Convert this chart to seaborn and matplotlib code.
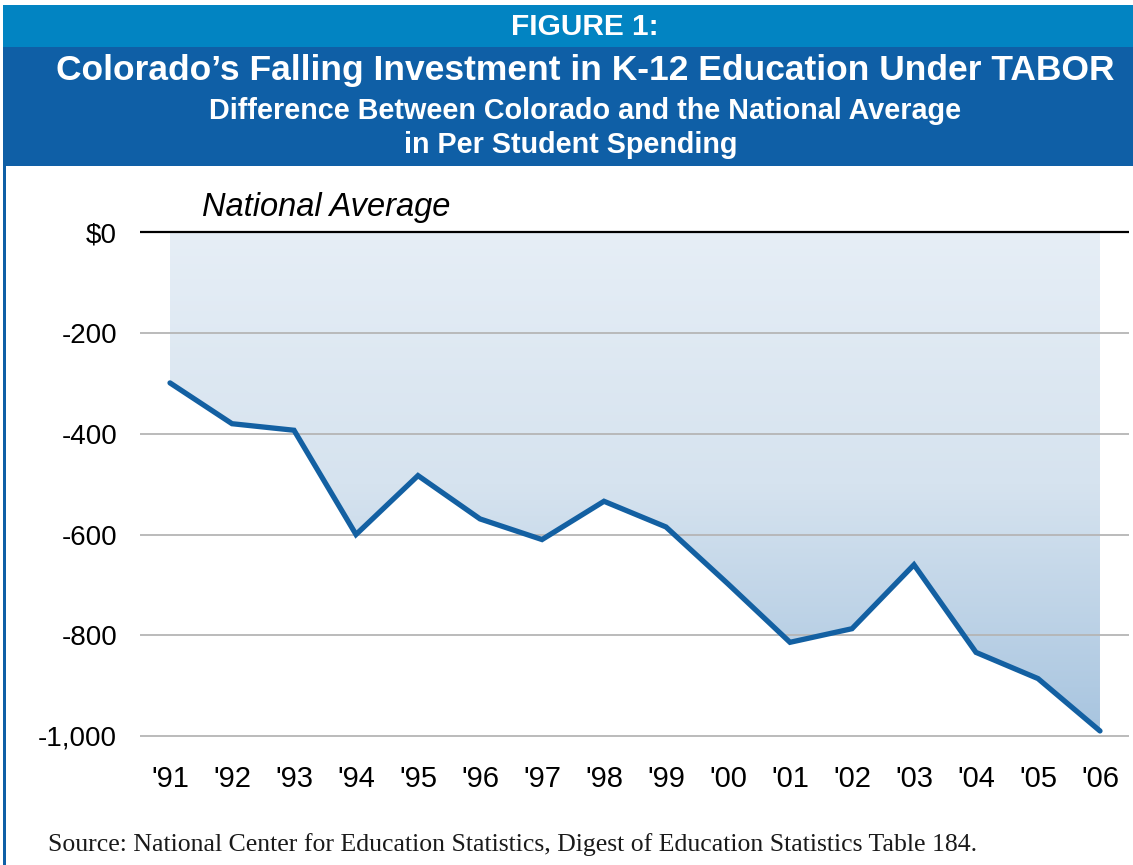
import numpy as np
import pandas as pd
import seaborn as sns
import matplotlib.pyplot as plt
from matplotlib.patches import Rectangle
from matplotlib.colors import LinearSegmentedColormap

# Data
years = ["'91", "'92", "'93", "'94", "'95", "'96", "'97", "'98",
         "'99", "'00", "'01", "'02", "'03", "'04", "'05", "'06"]
diff = [-299, -380, -393, -600, -483, -569, -610, -534,
        -585, -698, -814, -787, -660, -834, -886, -990]
yticks = [0, -200, -400, -600, -800, -1000]
ytick_labels = ['$0', '-200', '-400', '-600', '-800', '-1,000']

df = pd.DataFrame({'idx': np.arange(len(years)), 'year': years, 'diff': diff})

sns.set_style('white')
sans = ['Liberation Sans', 'DejaVu Sans']

W, H = 1133, 865
fig = plt.figure(figsize=(W / 100, H / 100), dpi=100)

# header bands and left border
fig.patches.append(Rectangle((3 / W, 1 - 47 / H), 1, 42 / H, transform=fig.transFigure,
                             facecolor='#0284C2', edgecolor='none'))
fig.patches.append(Rectangle((3 / W, 1 - 166 / H), 1, 119 / H, transform=fig.transFigure,
                             facecolor='#0F5FA6', edgecolor='none'))
fig.patches.append(Rectangle((3 / W, 0), 3 / W, 1 - 166 / H, transform=fig.transFigure,
                             facecolor='#0F5FA6', edgecolor='none'))

fig.text(585 / W, 1 - 35 / H, 'FIGURE 1:', color='white', fontsize=21.5, fontweight='bold',
         ha='center', va='baseline', family=sans)
fig.text(585 / W, 1 - 80 / H, 'Colorado\u2019s Falling Investment in K-12 Education Under TABOR',
         color='white', fontsize=25.5, fontweight='bold', ha='center', va='baseline', family=sans)
fig.text(585 / W, 1 - 119 / H, 'Difference Between Colorado and the National Average',
         color='white', fontsize=20.7, fontweight='bold', ha='center', va='baseline', family=sans)
fig.text(571 / W, 1 - 153 / H, 'in Per Student Spending',
         color='white', fontsize=20.7, fontweight='bold', ha='center', va='baseline', family=sans)

# plot area
ylo, yhi = -1010, 10
left, right = 140 / W, 1129 / W
top_px, bot_px = 232.3 - 10 * 0.5035, 736 + 10 * 0.5035
ax = fig.add_axes([left, 1 - bot_px / H, right - left, (bot_px - top_px) / H])

# gradient area between zero and the line
poly = ax.fill_between(df['idx'], df['diff'], 0, facecolor='none', edgecolor='none')
cmap = LinearSegmentedColormap.from_list('grad', ['#E6EEF6', '#D6E3EF', '#A7C4DF'])
grad = np.linspace(0, 1, 256).reshape(-1, 1)
im = ax.imshow(grad, extent=[0, len(years) - 1, -1000, 0], aspect='auto', cmap=cmap,
               origin='upper', zorder=1)
im.set_clip_path(poly.get_paths()[0], transform=ax.transData)

sns.lineplot(data=df, x='idx', y='diff', ax=ax, color='#1360A2', linewidth=3.8,
             zorder=4, solid_joinstyle='miter')

ax.set_xlim(-0.484, 15.468)
ax.set_ylim(ylo, yhi)
ax.set_yticks(yticks)
ax.set_yticklabels(ytick_labels, family=sans, fontsize=20)
ax.set_xticks(df['idx'])
ax.set_xticklabels(years, family=sans, fontsize=21)
ax.tick_params(axis='both', length=0, colors='black')
ax.tick_params(axis='y', pad=16.5)
ax.tick_params(axis='x', pad=17)
ax.set_xlabel('')
ax.set_ylabel('')
for s in ax.spines.values():
    s.set_visible(False)
for t in yticks[1:]:
    ax.axhline(t, color='#B5B5B5', linewidth=1.3, zorder=2)
ax.axhline(0, color='black', linewidth=1.6, zorder=3)

fig.text(202 / W, 1 - 216 / H, 'National Average', fontsize=23.5, style='italic',
         ha='left', va='baseline', family=sans, color='black')

fig.text(48 / W, 1 - 851 / H,
         'Source: National Center for Education Statistics, Digest of Education Statistics Table 184.',
         fontsize=18.5, ha='left', va='baseline', family=['Liberation Serif', 'DejaVu Serif'],
         color='#1a1a1a')

plt.savefig('out.png', dpi=100)
plt.close()
